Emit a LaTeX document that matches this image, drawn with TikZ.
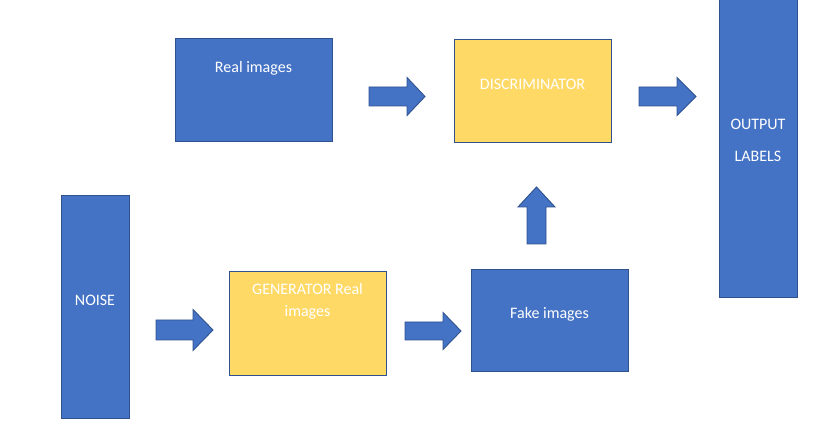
\documentclass[tikz,border=0pt]{standalone}
\usepackage{fontspec}
\setmainfont{Carlito}
\definecolor{boxblue}{HTML}{4472C4}
\definecolor{edgeblue}{HTML}{2F528F}
\definecolor{boxyellow}{HTML}{FFD966}
\tikzset{
  bluebox/.style={draw=edgeblue, fill=boxblue, line width=0.9pt, inner sep=0pt},
  yellowbox/.style={draw=edgeblue, fill=boxyellow, line width=0.9pt, inner sep=0pt},
  txt/.style={text=white, font=\fontsize{16}{22}\selectfont, inner sep=0pt, align=center},
  blockarrow/.style={draw=edgeblue, fill=boxblue, line width=0.9pt, line join=miter}
}
% \barrow{name}{tail x}{tail y}{length}{shaft}{head width}{head length}{angle}
\newcommand{\barrow}[8]{%
  \begin{scope}[shift={(#2,#3)}, rotate=#8]
    \coordinate (#1) at (0,0);
    \draw[blockarrow] (0,{-#5/2}) -- ({#4-#7},{-#5/2}) -- ({#4-#7},{-#6/2}) -- (#4,0)
      -- ({#4-#7},{#6/2}) -- ({#4-#7},{#5/2}) -- (0,{#5/2}) -- cycle;
  \end{scope}}
\begin{document}
\begin{tikzpicture}[x=1pt, y=-1pt]
\useasboundingbox (0,0) rectangle (828,427);
% boxes
\node[bluebox, minimum width=157pt, minimum height=103pt, anchor=north west] (real) at (175,38) {};
\node[yellowbox, minimum width=157pt, minimum height=103pt, anchor=north west] (disc) at (454,39) {};
\node[bluebox, minimum width=78pt, minimum height=298pt, anchor=north west] (out) at (719,-1) {};
\node[bluebox, minimum width=68pt, minimum height=223pt, anchor=north west] (noise) at (61,195) {};
\node[yellowbox, minimum width=157pt, minimum height=104pt, anchor=north west] (gen) at (229,271) {};
\node[bluebox, minimum width=157pt, minimum height=102pt, anchor=north west] (fake) at (471,269) {};
% texts
\node[txt] (realt) at (253.5,68) {Real images};
\node[txt] (disct) at (532.5,84) {DISCRIMINATOR};
\node[txt] (outt1) at (758,124) {OUTPUT};
\node[txt] (outt2) at (758,156) {LABELS};
\node[txt] (noiset) at (95,300) {NOISE};
\node[txt] (gent) at (307.5,301) {GENERATOR Real\\images};
\node[txt] (faket) at (549.5,314) {Fake images};
% arrows
\barrow{a1}{369}{96.5}{56}{19}{38}{18}{0}
\barrow{a2}{639}{96.5}{57}{19}{38}{19}{0}
\barrow{a3}{156}{330}{57}{20}{41}{20}{0}
\barrow{a4}{405}{331}{56}{18}{37}{18}{0}
\barrow{a5}{536.5}{244}{57}{19}{37}{20}{90}
\end{tikzpicture}
\end{document}
